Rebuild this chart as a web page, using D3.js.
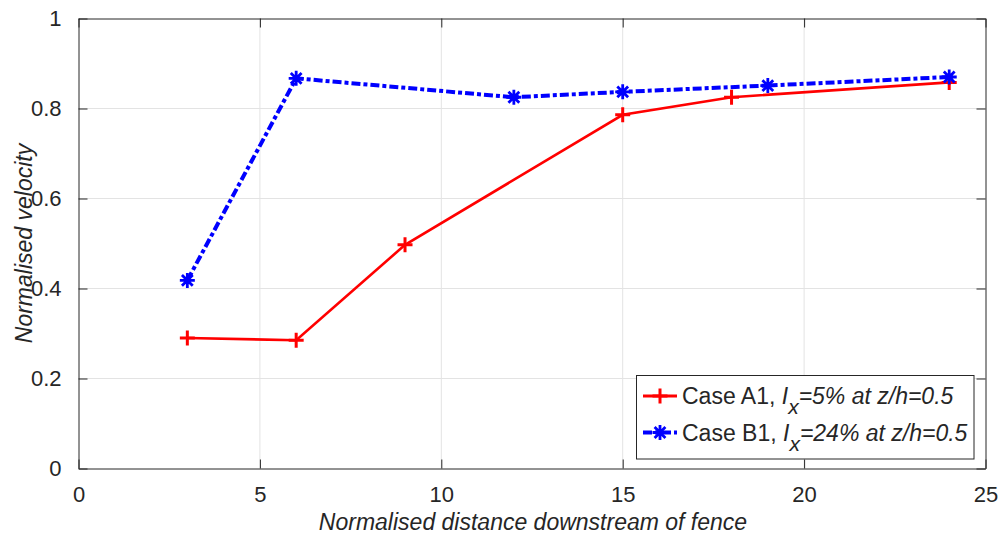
<!DOCTYPE html>
<html>
<head>
<meta charset="utf-8">
<script src="https://cdn.jsdelivr.net/npm/d3@7"></script>
<style>
  html, body { margin: 0; padding: 0; background: #fff; }
  svg { display: block; }
  text { font-family: "Liberation Sans", Arial, Helvetica, sans-serif; fill: #262626; }
</style>
</head>
<body>
<svg id="chart" width="1008" height="537"></svg>
<script>
// Downstream distance (x/h) and normalised velocity for each case
const caseA1X = [3, 6, 9, 15, 18, 24];
const caseA1Y = [0.290, 0.285, 0.497, 0.786, 0.825, 0.858];
const caseB1X = [3, 6, 12, 15, 19, 24];
const caseB1Y = [0.418, 0.867, 0.825, 0.837, 0.851, 0.870];
const xTicks = [0, 5, 10, 15, 20, 25];
const yTicks = [0, 0.2, 0.4, 0.6, 0.8, 1];

const svg = d3.select("#chart");
const margin = { left: 78.5, right: 1008 - 985.5, top: 18.5, bottom: 537 - 468.5 };
const W = 1008, H = 537;
const x = d3.scaleLinear().domain([0, 25]).range([margin.left, W - margin.right]);
const y = d3.scaleLinear().domain([0, 1]).range([H - margin.bottom, margin.top]);

// grid
const grid = svg.append("g");
grid.selectAll(".gx").data(xTicks.slice(1, -1)).join("line")
  .attr("x1", d => x(d)).attr("x2", d => x(d))
  .attr("y1", y(0)).attr("y2", y(1))
  .attr("stroke", "#e3e3e3").attr("stroke-width", 1);
grid.selectAll(".gy").data(yTicks.slice(1, -1)).join("line")
  .attr("y1", d => y(d)).attr("y2", d => y(d))
  .attr("x1", x(0)).attr("x2", x(25))
  .attr("stroke", "#e3e3e3").attr("stroke-width", 1);

// axes with inward ticks on all four sides
const tickLen = 9;
const fs = 22;
const axisG = svg.append("g");
const xb = d3.axisBottom(x).tickValues(xTicks).tickSizeInner(-tickLen).tickSizeOuter(0).tickPadding(18);
const xt = d3.axisTop(x).tickValues(xTicks).tickSizeInner(-tickLen).tickSizeOuter(0).tickFormat("");
const yl = d3.axisLeft(y).tickValues(yTicks).tickSizeInner(-tickLen).tickSizeOuter(0).tickPadding(17).tickFormat(d3.format("~g"));
const yr = d3.axisRight(y).tickValues(yTicks).tickSizeInner(-tickLen).tickSizeOuter(0).tickFormat("");

function styleAxis(g) {
  g.select(".domain").attr("stroke", "#262626").attr("stroke-width", 1);
  g.selectAll(".tick line").attr("stroke", "#262626").attr("stroke-width", 1);
  g.selectAll("text").attr("fill", "#262626").attr("font-size", fs)
    .attr("font-family", "'Liberation Sans', Arial, sans-serif");
}
axisG.append("g").attr("transform", `translate(0,${y(0)})`).call(xb).call(styleAxis)
  .selectAll("text").attr("dy", "0.71em");
axisG.append("g").attr("transform", `translate(0,${y(1)})`).call(xt).call(styleAxis);
axisG.append("g").attr("transform", `translate(${x(0)},0)`).call(yl).call(styleAxis);
axisG.append("g").attr("transform", `translate(${x(25)},0)`).call(yr).call(styleAxis);

// axis titles
svg.append("text")
  .attr("x", (x(0) + x(25)) / 2 + 1).attr("y", 530)
  .attr("text-anchor", "middle").attr("font-size", 23).attr("font-style", "italic")
  .text("Normalised distance downstream of fence");
svg.append("text")
  .attr("transform", `translate(32,${(y(0) + y(1)) / 2}) rotate(-90)`)
  .attr("text-anchor", "middle").attr("font-size", 23).attr("font-style", "italic")
  .text("Normalised velocity");

// series
const line = d3.line().x(d => x(d[0])).y(d => y(d[1]));
const dataA = caseA1X.map((v, i) => [v, caseA1Y[i]]);
const dataB = caseB1X.map((v, i) => [v, caseB1Y[i]]);

const red = "#ff0000", blue = "#0000ff";
const dashB = "9,3,4,3";

function plusMarker(g, cx, cy, s, col, w) {
  g.append("path").attr("d", `M${cx - s},${cy}H${cx + s}M${cx},${cy - s}V${cy + s}`)
    .attr("stroke", col).attr("stroke-width", w).attr("fill", "none");
}
function starMarker(g, cx, cy, s, col, w) {
  const d = s * 0.72;
  g.append("path")
    .attr("d", `M${cx - s},${cy}H${cx + s}M${cx},${cy - s}V${cy + s}` +
      `M${cx - d},${cy - d}L${cx + d},${cy + d}M${cx - d},${cy + d}L${cx + d},${cy - d}`)
    .attr("stroke", col).attr("stroke-width", w).attr("fill", "none");
}

svg.append("path").datum(dataA).attr("d", line)
  .attr("fill", "none").attr("stroke", red).attr("stroke-width", 2.6);
const mA = svg.append("g");
dataA.forEach(d => plusMarker(mA, x(d[0]), y(d[1]), 7.5, red, 3));

svg.append("path").datum(dataB).attr("d", line)
  .attr("fill", "none").attr("stroke", blue).attr("stroke-width", 4)
  .attr("stroke-dasharray", dashB);
const mB = svg.append("g");
dataB.forEach(d => starMarker(mB, x(d[0]), y(d[1]), 7.5, blue, 2.8));

// legend
const lg = svg.append("g");
lg.append("rect").attr("x", 636.5).attr("y", 375.5).attr("width", 337.5).attr("height", 83.5)
  .attr("fill", "#fff").attr("stroke", "#262626").attr("stroke-width", 1);

const legendItems = [
  { label: "Case A1, ", val: "=5% at z/h=0.5", col: red, type: "plus" },
  { label: "Case B1, ", val: "=24% at z/h=0.5", col: blue, type: "star" }
];
legendItems.forEach((it, i) => {
  const cy = 396 + i * 36.5;
  if (it.type === "plus") {
    lg.append("line").attr("x1", 643).attr("x2", 677).attr("y1", cy).attr("y2", cy)
      .attr("stroke", it.col).attr("stroke-width", 2.8);
    plusMarker(lg, 660, cy, 7.5, it.col, 3);
  } else {
    lg.append("line").attr("x1", 643).attr("x2", 677).attr("y1", cy).attr("y2", cy)
      .attr("stroke", it.col).attr("stroke-width", 4).attr("stroke-dasharray", dashB);
    starMarker(lg, 660, cy, 7.5, it.col, 2.8);
  }
  const t = lg.append("text").attr("x", 682).attr("y", cy + 8).attr("font-size", 23).attr("fill", "#000");
  t.append("tspan").text(it.label);
  t.append("tspan").attr("font-style", "italic").text("I");
  t.append("tspan").attr("font-style", "italic").attr("font-size", 21).attr("dy", 10).text("x");
  t.append("tspan").attr("font-style", "italic").attr("dy", -10).text(it.val);
});
</script>
</body>
</html>
